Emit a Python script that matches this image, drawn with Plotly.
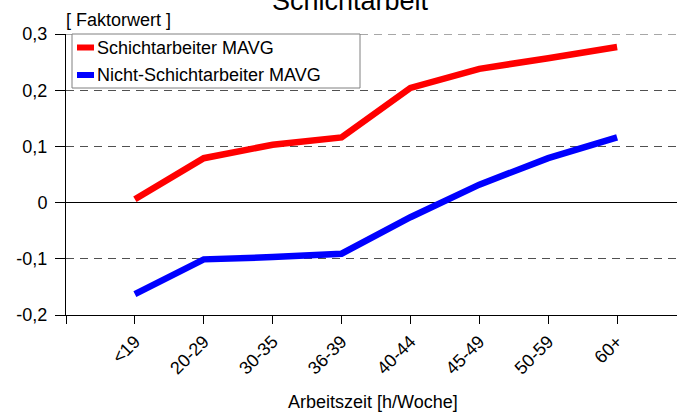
import plotly.graph_objects as go

categories = ["<19", "20-29", "30-35", "36-39", "40-44", "45-49", "50-59", "60+"]
schicht = [0.006, 0.079, 0.103, 0.116, 0.204, 0.238, 0.257, 0.277]
nicht_schicht = [-0.163, -0.101, -0.097, -0.091, -0.026, 0.032, 0.079, 0.116]
y_tickvals = [-0.2, -0.1, 0, 0.1, 0.2, 0.3]
y_ticktext = ["-0,2", "-0,1", "0", "0,1", "0,2", "0,3"]
series_names = ["Schichtarbeiter MAVG", "Nicht-Schichtarbeiter MAVG"]
series_colors = ["#FF0000", "#0000FF"]

W, H = 677, 417
L, R, T, B = 66, 677, 34, 315
pw, ph = R - L, B - T

def px(x):
    return (x - L) / pw

def py(y):
    return (B - y) / ph

FONT = "Liberation Sans, Arial, sans-serif"
FS = 18
GRID = "#505050"
xidx = list(range(len(categories)))

fig = go.Figure()
for vals, name, col in zip([schicht, nicht_schicht], series_names, series_colors):
    fig.add_trace(go.Scatter(x=xidx, y=vals, mode="lines", name=name,
                             line=dict(color=col, width=6.5),
                             showlegend=False))

fig.update_layout(
    width=W, height=H,
    margin=dict(l=L, r=W - R, t=T, b=H - B),
    plot_bgcolor="white", paper_bgcolor="white",
    font=dict(family=FONT, size=FS, color="black"),
    xaxis=dict(
        range=[-1, (R - 134) / 69],
        tickvals=[-1] + xidx, ticktext=[""] + categories,
        tickangle=-45, ticks="outside", ticklen=8, tickcolor="black",
        showline=True, linecolor="black", linewidth=1,
        showgrid=False, zeroline=False,
        tickfont=dict(size=FS),
    ),
    yaxis=dict(
        range=[-0.2, 0.3],
        tickvals=y_tickvals, ticktext=y_ticktext,
        ticks="outside", ticklen=10, tickcolor="black",
        ticklabelstandoff=4,
        showline=True, linecolor="black", linewidth=1,
        showgrid=True, gridcolor=GRID, gridwidth=1, griddash="8px,6px",
        zeroline=True, zerolinecolor="black", zerolinewidth=1,
        tickfont=dict(size=FS),
    ),
)

# top gridline (at the range edge)
fig.add_shape(type="line", xref="paper", yref="y", x0=0, x1=1, y0=0.3, y1=0.3,
              line=dict(color=GRID, width=1, dash="8px,6px"), layer="below")

# legend box
fig.add_shape(type="rect", xref="paper", yref="paper",
              x0=px(72), x1=px(360), y0=py(88), y1=py(34),
              line=dict(color="#808080", width=1), fillcolor="white", layer="above")
for i, (name, col) in enumerate(zip(series_names, series_colors)):
    cy = 47.5 + i * 27.5
    fig.add_shape(type="rect", xref="paper", yref="paper",
                  x0=px(77), x1=px(94), y0=py(cy + 3), y1=py(cy - 3),
                  line=dict(width=0), fillcolor=col, layer="above")
    fig.add_annotation(text=name, xref="paper", yref="paper", x=px(95), y=py(cy),
                       xanchor="left", yanchor="middle", showarrow=False,
                       font=dict(size=FS))

# title (partially cut at the top)
fig.add_annotation(text="Schichtarbeit", xref="paper", yref="paper", x=px(350), y=py(18),
                   xanchor="center", yanchor="bottom", showarrow=False,
                   font=dict(size=27))
# y axis label
fig.add_annotation(text="[ Faktorwert ]", xref="paper", yref="paper", x=px(64), y=py(20),
                   xanchor="left", yanchor="middle", showarrow=False,
                   font=dict(size=FS))
# x axis title
fig.add_annotation(text="Arbeitszeit [h/Woche]", xref="paper", yref="paper", x=px(373), y=py(402),
                   xanchor="center", yanchor="middle", showarrow=False,
                   font=dict(size=FS))

fig.write_html("out.html", config={"displayModeBar": False},
               post_script="document.body.style.margin='0px';")
